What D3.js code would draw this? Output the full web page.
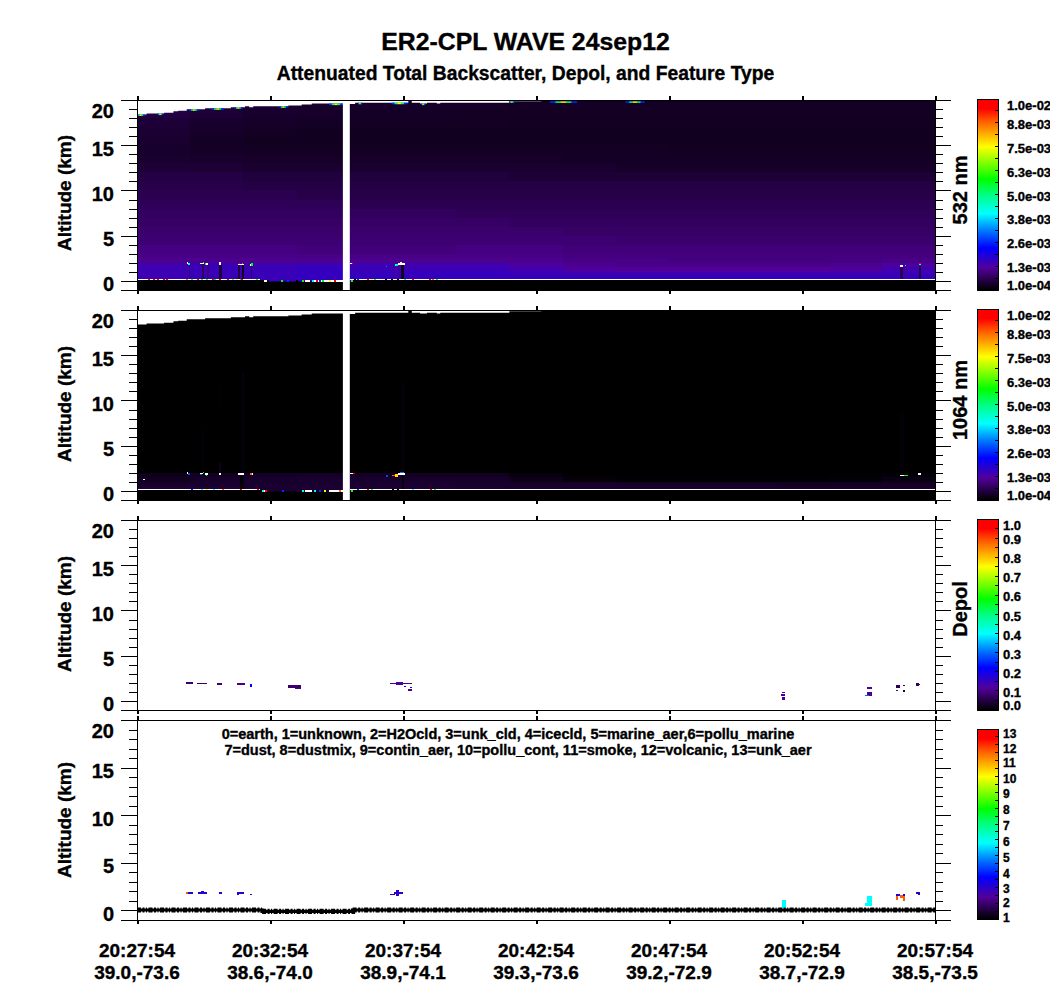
<!DOCTYPE html>
<html>
<head>
<meta charset="utf-8">
<script src="https://cdn.jsdelivr.net/npm/d3@7.9.0/dist/d3.min.js"></script>
<style>
  html, body { margin: 0; padding: 0; background: #fff; }
  text { font-family: "Liberation Sans", Arial, sans-serif; font-weight: bold; fill: #000; stroke: #000; stroke-width: 0.35px; }
</style>
</head>
<body>
<svg id="chart" width="1050" height="1000"></svg>
<script>
// x values are minutes after 20:27:54, altitudes km, backscatter in units of 1e-3
const timeTicks = [0, 5, 10, 15, 20, 25, 30];
const timeLabels = ['20:27:54', '20:32:54', '20:37:54', '20:42:54', '20:47:54', '20:52:54', '20:57:54'];
const navLabels = ['39.0,-73.6', '38.6,-74.0', '38.9,-74.1', '39.3,-73.6', '39.2,-72.9', '38.7,-72.9', '38.5,-73.5'];

const SAT = 99; // above the colour range, drawn white

const gapTimes = [7.74, 8.0];

// top of the signal (aircraft altitude)
const ceilingT = [0, 0.36, 1.02, 1.37, 1.55, 1.87, 2.56, 3.53, 4.06, 4.22, 4.37, 5.69, 6.19, 6.57, 8.0, 8.2, 10.2, 10.33, 10.64, 10.9, 11.27, 11.4, 14, 15.2, 30];
const ceilingAlt = [18.4, 18.5, 18.6, 18.75, 18.8, 18.97, 19.08, 19.2, 19.3, 19.2, 19.3, 19.4, 19.5, 19.6, 19.55, 19.7, 20.0, 19.7, 19.6, 19.7, 19.6, 19.7, 19.85, 20.5, 20.5];

// ground
const surfaceT = [0, 4.7, 8.1, 30];
const surfaceAlt = [0.1, -0.05, 0.1, 0.1];

// curtain table, columns every 2 minutes from 0, rows bottom to top
const altEdges = [-0.1, 0.5, 1, 1.5, 2, 2.5, 3, 4, 5, 6, 7, 8, 9, 10, 11, 12, 13, 14, 15, 16, 17, 18, 19, 21];
const bg532 = [
  [1.55, 1.6, 1.55, 1.6, 1.6, 1.6, 1.6, 1.6, 1.6, 1.6, 1.6, 1.6, 1.6, 1.6, 1.6],
  [1.5, 1.55, 1.55, 1.6, 1.6, 1.6, 1.6, 1.55, 1.5, 1.5, 1.5, 1.5, 1.5, 1.5, 1.55],
  [1.5, 1.55, 1.55, 1.6, 1.55, 1.55, 1.55, 1.45, 1.3, 1.25, 1.25, 1.25, 1.25, 1.3, 1.45],
  [1.45, 1.55, 1.5, 1.55, 1.5, 1.45, 1.45, 1.3, 1.15, 1.1, 1.1, 1.1, 1.1, 1.15, 1.3],
  [1.15, 1.15, 1.15, 1.15, 1.15, 1.15, 1.15, 1.15, 1.1, 1.1, 1.05, 1.05, 1.05, 1.05, 1.1],
  [1.1, 1.1, 1.1, 1.1, 1.1, 1.1, 1.1, 1.1, 1.05, 1.05, 1.05, 1.05, 1.05, 1.05, 1.05],
  [1.05, 1.05, 1.05, 1.0, 1.0, 1.0, 1.05, 1.05, 1.0, 1.0, 1.0, 1.0, 1.0, 1.0, 1.0],
  [0.95, 0.95, 0.95, 0.95, 0.95, 0.95, 0.95, 0.95, 0.95, 0.9, 0.9, 0.9, 0.9, 0.9, 0.9],
  [0.9, 0.9, 0.9, 0.9, 0.9, 0.9, 0.9, 0.9, 0.85, 0.85, 0.85, 0.85, 0.85, 0.85, 0.85],
  [0.85, 0.85, 0.85, 0.85, 0.85, 0.85, 0.85, 0.8, 0.8, 0.8, 0.8, 0.8, 0.8, 0.8, 0.8],
  [0.8, 0.8, 0.8, 0.8, 0.8, 0.8, 0.75, 0.75, 0.75, 0.75, 0.75, 0.75, 0.75, 0.75, 0.75],
  [0.75, 0.75, 0.75, 0.75, 0.7, 0.7, 0.7, 0.7, 0.7, 0.7, 0.7, 0.7, 0.7, 0.7, 0.7],
  [0.7, 0.7, 0.7, 0.65, 0.65, 0.65, 0.65, 0.65, 0.65, 0.65, 0.65, 0.65, 0.65, 0.65, 0.65],
  [0.65, 0.65, 0.6, 0.6, 0.6, 0.6, 0.6, 0.6, 0.6, 0.6, 0.6, 0.6, 0.6, 0.6, 0.6],
  [0.6, 0.6, 0.55, 0.55, 0.55, 0.55, 0.55, 0.5, 0.5, 0.5, 0.5, 0.5, 0.5, 0.5, 0.5],
  [0.5, 0.5, 0.45, 0.45, 0.45, 0.45, 0.45, 0.45, 0.45, 0.4, 0.4, 0.4, 0.4, 0.4, 0.4],
  [0.45, 0.42, 0.4, 0.4, 0.4, 0.4, 0.4, 0.4, 0.38, 0.38, 0.38, 0.38, 0.38, 0.38, 0.38],
  [0.42, 0.38, 0.36, 0.36, 0.36, 0.36, 0.36, 0.36, 0.36, 0.36, 0.34, 0.34, 0.34, 0.34, 0.34],
  [0.45, 0.38, 0.34, 0.34, 0.34, 0.34, 0.34, 0.34, 0.34, 0.34, 0.34, 0.34, 0.34, 0.34, 0.34],
  [0.48, 0.4, 0.36, 0.34, 0.34, 0.34, 0.34, 0.34, 0.34, 0.34, 0.34, 0.34, 0.34, 0.34, 0.34],
  [0.52, 0.44, 0.4, 0.38, 0.36, 0.36, 0.36, 0.34, 0.34, 0.34, 0.34, 0.34, 0.34, 0.34, 0.34],
  [0.58, 0.5, 0.44, 0.4, 0.38, 0.38, 0.36, 0.36, 0.36, 0.36, 0.36, 0.36, 0.36, 0.36, 0.36],
  [0.62, 0.55, 0.48, 0.44, 0.42, 0.4, 0.4, 0.38, 0.38, 0.38, 0.38, 0.38, 0.38, 0.38, 0.38]
];
const bg1064 = [
  [0.5, 0.5, 0.46, 0.48, 0.48, 0.48, 0.44, 0.44, 0.44, 0.44, 0.44, 0.42, 0.4, 0.4, 0.4],
  [0.4, 0.44, 0.44, 0.46, 0.46, 0.46, 0.44, 0.4, 0.4, 0.38, 0.36, 0.36, 0.34, 0.34, 0.36],
  [0.34, 0.4, 0.42, 0.44, 0.44, 0.42, 0.4, 0.28, 0.18, 0.14, 0.13, 0.14, 0.14, 0.16, 0.24],
  [0.3, 0.36, 0.38, 0.4, 0.38, 0.36, 0.34, 0.2, 0.12, 0.1, 0.1, 0.1, 0.1, 0.12, 0.16],
  [0.1, 0.1, 0.1, 0.1, 0.1, 0.1, 0.1, 0.08, 0.08, 0.08, 0.08, 0.08, 0.08, 0.08, 0.08],
  [0.08, 0.08, 0.08, 0.08, 0.08, 0.08, 0.08, 0.08, 0.08, 0.08, 0.08, 0.08, 0.08, 0.08, 0.08],
  [0.08, 0.08, 0.08, 0.08, 0.08, 0.08, 0.08, 0.08, 0.08, 0.08, 0.08, 0.08, 0.08, 0.08, 0.08]
];

// t0, t1, alt0, alt1, value
const streaks532 = [
  [1.95, 2.0, 0.1, 1.8, 0.95], [2.46, 2.52, 0.1, 1.9, 0.8], [2.65, 2.69, 0.1, 1.8, 1.0],
  [3.1, 3.18, 0.1, 1.8, 0.5], [3.81, 3.87, 0.1, 1.75, 0.55], [3.93, 4.02, 0.1, 1.75, 0.35],
  [4.29, 4.34, 0.1, 1.7, 0.8], [9.91, 10.04, 0.1, 1.77, 0.35], [9.7, 9.76, 0.1, 1.65, 1.15],
  [28.7, 28.81, 0.1, 1.6, 0.7], [28.9, 28.96, 0.1, 1.6, 1.2], [29.41, 29.47, 0.1, 1.7, 0.6]
];
const clouds532 = [
  [1.87, 1.93, 1.9, 2.1, SAT], [1.93, 2.0, 1.77, 2.0, 4.2],
  [2.37, 2.52, 1.9, 2.0, SAT], [2.47, 2.51, 2.0, 2.1, 5.8],
  [2.56, 2.6, 1.8, 2.0, 5.8], [2.6, 2.66, 1.8, 2.0, SAT],
  [3.08, 3.16, 1.75, 2.05, SAT],
  [3.81, 4.02, 1.75, 1.9, SAT], [3.84, 3.88, 1.9, 2.02, 9.8], [3.96, 4.0, 1.9, 2.02, 8.8],
  [4.25, 4.29, 1.7, 1.85, SAT], [4.29, 4.37, 1.7, 1.95, 5.8],
  [8.01, 8.07, 1.9, 2.0, SAT], [8.07, 8.13, 1.9, 2.0, 9.8],
  [9.36, 9.41, 1.55, 1.7, 3.2], [9.7, 9.76, 1.65, 1.85, 4.2], [9.76, 9.82, 1.65, 1.85, 5.6],
  [9.82, 10.07, 1.77, 1.95, SAT], [9.88, 9.98, 1.95, 2.1, SAT],
  [28.7, 28.81, 1.58, 1.73, SAT], [28.86, 28.9, 1.6, 1.75, 4.2],
  [29.41, 29.47, 1.9, 2.0, 9.8], [29.41, 29.47, 1.75, 1.9, 4.2]
];
const streaks1064 = [
  [3.1, 3.16, 2, 3.2, 0.3], [3.1, 3.16, 8.5, 12.5, 0.14], [3.93, 4.02, 2, 13, 0.2], [3.87, 3.93, 0.1, 1.7, 0.12],
  [3.93, 4.02, 0.1, 1.7, 0.2], [2.46, 2.5, 2, 7, 0.16], [1.95, 2, 2, 5, 0.14],
  [9.95, 10.04, 2, 12, 0.2], [9.95, 10.04, 0.1, 1.7, 0.16], [28.7, 28.85, 2, 9, 0.16]
];
const clouds1064 = [
  [0.24, 0.3, 1.2, 1.3, SAT],
  [1.87, 1.93, 1.9, 2.1, SAT], [1.93, 2.0, 1.75, 2.0, 2.8],
  [2.37, 2.49, 1.85, 1.95, SAT], [2.37, 2.45, 1.75, 1.85, 3.0], [2.47, 2.51, 1.95, 2.08, 5.8],
  [2.56, 2.68, 1.75, 1.95, SAT], [2.6, 2.64, 1.72, 1.78, 5.8],
  [3.08, 3.16, 1.75, 2.0, SAT], [3.81, 4.02, 1.75, 1.95, SAT],
  [4.25, 4.31, 1.75, 1.95, 8.8], [4.31, 4.37, 1.75, 1.95, SAT],
  [8.01, 8.13, 1.9, 2.0, SAT], [8.13, 8.18, 1.9, 2.0, 9.8],
  [9.36, 9.42, 1.55, 1.8, 2.8], [9.57, 9.7, 1.75, 1.8, 8.8], [9.7, 9.82, 1.55, 1.9, 7.8],
  [9.82, 10.07, 1.75, 2.0, SAT], [9.88, 10.02, 2.0, 2.1, 3.2],
  [28.7, 28.85, 1.65, 1.8, SAT], [28.85, 29.0, 1.65, 1.8, 5.8],
  [29.36, 29.47, 1.8, 1.95, SAT]
];

// white ground return, t0, t1, alt
const groundLine532 = [[0, 4.62, 0.1], [4.75, 4.94, -0.05], [6.3, 6.5, -0.05], [6.63, 7.74, -0.05], [8.0, 30, 0.1]];
const groundLine1064 = [[0, 4.62, 0.1], [4.75, 4.85, -0.05], [6.32, 6.57, -0.05], [7.2, 7.74, -0.05], [8.0, 30, 0.1]];

// coloured specks on the ground line, t and value
const specksT532 = [0.46, 0.65, 0.8, 1.03, 1.14, 1.87, 2.05, 2.28, 2.43, 2.64, 2.87, 2.93, 3.12, 3.43, 3.62, 3.75, 3.9, 3.96, 4.52, 4.75, 4.94, 5.44, 5.69, 6.0, 6.25, 6.63, 6.75, 6.88, 7.0, 7.26, 7.44, 8.07, 8.2, 8.32, 8.7, 8.82, 8.95, 9.36, 9.57, 9.82, 10.07, 10.39, 11.0, 11.14, 11.27];
const specksV532 = [9.9, 9.9, 9.9, 9.9, 9.9, 8.8, 5.8, 9.9, 5.8, 5.8, 9.9, 5.8, 9.9, 9.9, 6.3, 7.5, 5.8, 9.9, 5.8, 0.1, 0.1, 5.8, 2.6, 0.1, 5.8, 4.2, 9.9, 2.6, 5.8, 7.5, 9.9, 5.8, 0.1, 2.6, 9.9, 7.5, 5.8, 0.1, 0.1, 0.1, 5.8, 9.9, 9.9, 8.8, 5.8];
const specksT1064 = [2.08, 2.46, 2.65, 2.9, 3.22, 3.9, 4.56, 4.75, 4.84, 5.5, 6.23, 6.69, 6.88, 7.07, 7.63, 8.07, 8.32, 8.7, 8.82, 9.63, 9.82, 10.39, 11.07, 11.2];
const specksV1064 = [2.6, 4.2, 7.5, 4.2, 8.8, 9.9, 9.9, 4.2, 9.9, 2.6, 4.2, 4.2, 2.6, 7.5, 8.8, 5.8, 2.6, 9.9, 5.8, 0.1, 0.1, 4.2, 9.9, 5.8];

// bright bits along the top of the 532 curtain: centre t, width
const glintT = [0.14, 0.87, 2.14, 3.03, 3.81, 5.5, 7.48, 8.38, 9.86, 10.76, 14.09, 16.03, 18.72];
const glintW = [0.3, 0.2, 0.35, 0.45, 0.3, 0.3, 0.52, 0.15, 0.6, 0.15, 0.2, 1.0, 0.7];
const glintRamp = [2.6, 5.2, 7.6, 5.2, 2.6];

const depolCells = [
  [1.84, 2.12, 1.82, 2.04, 0.08], [2.24, 2.64, 1.82, 1.98, 0.08], [3.02, 3.18, 1.72, 1.93, 0.09],
  [3.77, 4.06, 1.77, 1.93, 0.1], [4.25, 4.31, 1.58, 1.85, 0.22],
  [5.69, 6.15, 1.47, 1.72, 0.08], [5.95, 6.15, 1.32, 1.42, 0.1],
  [9.51, 10.33, 1.82, 1.96, 0.1], [9.75, 10.0, 1.72, 2.04, 0.12], [10.05, 10.12, 1.5, 1.68, 0.22],
  [10.2, 10.33, 1.14, 1.3, 0.1], [10.27, 10.33, 1.4, 1.55, 0.22],
  [24.21, 24.36, 0.6, 0.72, 0.1], [24.26, 24.36, 0.85, 1.0, 0.14], [24.26, 24.36, 0.11, 0.4, 0.14],
  [27.43, 27.63, 0.55, 1.0, 0.1], [27.43, 27.63, 1.3, 1.5, 0.12], [27.36, 27.5, 0.55, 0.7, 0.3],
  [28.52, 28.69, 1.45, 1.77, 0.06], [28.52, 28.6, 1.14, 1.22, 0.1], [28.78, 28.87, 1.62, 1.77, 0.06], [28.78, 28.87, 1.03, 1.25, 0.04],
  [29.29, 29.38, 1.7, 2.0, 0.07], [29.38, 29.44, 1.78, 1.9, 0.08]
];
const featureCells = [
  [1.84, 1.9, 1.68, 1.92, 11.6], [1.9, 2.12, 1.68, 1.89, 3],
  [2.28, 2.64, 1.68, 1.89, 3], [2.42, 2.5, 1.89, 2.0, 3],
  [3.08, 3.2, 1.68, 1.89, 3], [3.77, 4.02, 1.68, 1.89, 3], [3.77, 3.85, 1.58, 1.68, 3], [4.25, 4.31, 1.58, 1.78, 3],
  [9.51, 9.7, 1.6, 1.78, 3], [9.65, 10.0, 1.68, 1.89, 3], [9.75, 9.85, 1.5, 2.1, 3],
  [24.26, 24.38, 0.28, 1.05, 5.8], [27.43, 27.63, 0.42, 1.47, 5.8], [27.36, 27.43, 0.42, 0.75, 5.8],
  [28.52, 28.69, 1.47, 1.68, 3], [28.52, 28.6, 1.05, 1.47, 11.6], [28.69, 28.87, 1.3, 1.58, 11.6],
  [28.78, 28.87, 1.47, 1.68, 3], [28.78, 28.87, 0.95, 1.3, 11.6], [29.29, 29.44, 1.68, 1.89, 3], [29.36, 29.44, 1.58, 1.68, 3]
];

// colour bars
const rainbowStops = [0, 0.115, 0.22, 0.31, 0.40, 0.50, 0.58, 0.75, 0.88, 0.95, 1];
const rainbowColors = ['#000000', '#52009a', '#0000ff', '#0078ff', '#00ffff', '#00ff80', '#00ff00', '#ffff00', '#ff6000', '#ff0000', '#ff0000'];
const backscatterTicks = [0.1, 1.34, 2.58, 3.81, 5.05, 6.29, 7.53, 8.76, 10];
const backscatterLabels = ['1.0e-04', '1.3e-03', '2.6e-03', '3.8e-03', '5.0e-03', '6.3e-03', '7.5e-03', '8.8e-03', '1.0e-02'];
const depolTicks = [0, 0.1, 0.2, 0.3, 0.4, 0.5, 0.6, 0.7, 0.8, 0.9, 1];
const depolLabels = ['0.0', '0.1', '0.2', '0.3', '0.4', '0.5', '0.6', '0.7', '0.8', '0.9', '1.0'];
const featureTicks = [1, 2, 3, 4, 5, 6, 7, 8, 9, 10, 11, 12, 13];
const featureLabels = featureTicks.map(String);

const legendLines = [
  '0=earth, 1=unknown, 2=H2Ocld, 3=unk_cld, 4=icecld, 5=marine_aer,6=pollu_marine',
  '7=dust, 8=dustmix, 9=contin_aer, 10=pollu_cont, 11=smoke, 12=volcanic, 13=unk_aer'
];

const plotLeft = 137, plotRight = 935;
const svg = d3.select('#chart');
const xScale = d3.scaleLinear().domain([0, 30]).range([plotLeft, plotRight]);
const rainbow = d3.scaleLinear().domain(rainbowStops).range(rainbowColors).interpolate(d3.interpolateRgb);

function fillOf(domain) {
  const frac = d3.scaleLinear().domain(domain).range([0, 1]).clamp(true);
  return (v) => (v > domain[1] ? '#ffffff' : rainbow(frac(v)));
}

let clipCount = 0;

function drawCells(g, y, cells, fill) {
  g.selectAll(null)
    .data(cells)
    .join('rect')
    .attr('x', (d) => xScale(d[0]))
    .attr('width', (d) => Math.max(1, xScale(d[1]) - xScale(d[0])))
    .attr('y', (d) => y(d[3]))
    .attr('height', (d) => Math.max(1, y(d[2]) - y(d[3])))
    .attr('fill', (d) => fill(d[4]))
    .attr('shape-rendering', 'crispEdges');
}

function drawAxes(g, y, top, bottom) {
  const majors = [0, 5, 10, 15, 20];
  const minors = d3.range(-1, 20).filter((d) => !majors.includes(d));

  const left = g.append('g').attr('transform', `translate(${plotLeft},0)`)
    .call(d3.axisLeft(y).tickValues(majors).tickSize(16).tickPadding(7).tickFormat(d3.format('d')));
  left.selectAll('text')
    .style('font-size', '20px')
    .attr('dy', (d) => (d === 20 ? '0.85em' : '0.5em'));
  g.append('g').attr('transform', `translate(${plotLeft},0)`)
    .call(d3.axisLeft(y).tickValues(minors).tickSize(8).tickFormat(''));

  g.append('g').attr('transform', `translate(${plotRight},0)`)
    .call(d3.axisRight(y).tickValues(majors).tickSize(16).tickFormat(''));
  g.append('g').attr('transform', `translate(${plotRight},0)`)
    .call(d3.axisRight(y).tickValues(minors).tickSize(8).tickFormat(''));

  const topAxis = g.append('g').attr('transform', `translate(0,${top})`)
    .call(d3.axisTop(xScale).tickValues(timeTicks).tickSize(4).tickSizeOuter(0).tickFormat(''));
  const bottomAxis = g.append('g').attr('transform', `translate(0,${bottom})`)
    .call(d3.axisBottom(xScale).tickValues(timeTicks).tickSize(4).tickSizeOuter(0).tickFormat(''));
  topAxis.selectAll('line').attr('stroke-width', 2);
  bottomAxis.selectAll('line').attr('stroke-width', 2);

  g.selectAll('.domain').attr('stroke-width', 1.2);
  g.selectAll('.tick line').attr('shape-rendering', 'crispEdges');
  g.selectAll('.domain').attr('shape-rendering', 'crispEdges');
  g.selectAll('.domain').attr('stroke', '#000');
}

// labels sit about 1.5px under their tick, the end ones pushed inside the bar
function drawColorbar(top, bottom, domain, ticks, labels, fill, opts) {
  const { size = 13, topInset = 6.3, bottomInset = 4.3, crowd = 0 } = opts || {};
  const g = svg.append('g');
  const x0 = 977, x1 = 998;
  const c = d3.scaleLinear().domain(domain).range([bottom, top]);
  g.selectAll('rect')
    .data(d3.range(bottom, top, -1))
    .join('rect')
    .attr('x', x0).attr('width', x1 - x0)
    .attr('y', (d) => d - 1).attr('height', 1)
    .attr('fill', (d) => fill(c.invert(d - 0.5)))
    .attr('shape-rendering', 'crispEdges');
  g.append('rect')
    .attr('x', x0).attr('y', top).attr('width', x1 - x0).attr('height', bottom - top)
    .attr('fill', 'none').attr('stroke', '#000')
    .attr('shape-rendering', 'crispEdges');
  const between = d3.pairs(ticks).map(([a, b]) => (a + b) / 2);
  g.selectAll('line')
    .data(ticks.concat(between))
    .join('line')
    .attr('x1', x1 - 3).attr('x2', x1)
    .attr('y1', (d) => c(d)).attr('y2', (d) => c(d))
    .attr('stroke', '#000')
    .attr('shape-rendering', 'crispEdges');
  g.selectAll('text')
    .data(ticks)
    .join('text')
    .attr('x', labels[0].length > 3 ? 1007 : 1003)
    .attr('y', (d, i) => {
      if (i === 0) return bottom - bottomInset + 4.5;
      if (i === ticks.length - 1) return top + topInset + 4.5;
      if (i === 1) return c(d) + 1.5 - crowd + 4.5;
      if (i === ticks.length - 2) return c(d) + 1.5 + crowd + 4.5;
      return c(d) + 1.5 + 4.5;
    })
    .style('font-size', size + 'px')
    .text((d, i) => labels[i]);
}

function sideLabel(text, x, y, size) {
  svg.append('text')
    .attr('transform', `translate(${x},${y}) rotate(-90)`)
    .attr('text-anchor', 'middle')
    .style('font-size', size + 'px')
    .text(text);
}

function drawCurtainPanel(top, bottom, table, streaks, clouds, groundLine, specksT, specksV, withGlints) {
  const y = d3.scaleLinear().domain([-1, 20]).range([bottom, top]);
  const fill = fillOf([0.1, 10]);
  const g = svg.append('g');
  const clipId = 'clip' + clipCount++;
  g.append('clipPath').attr('id', clipId).append('rect')
    .attr('x', plotLeft).attr('y', top)
    .attr('width', plotRight - plotLeft).attr('height', bottom - top);
  const plot = g.append('g').attr('clip-path', `url(#${clipId})`);

  // black base, the table only covers its lowest rows for 1064
  plot.append('rect').attr('x', plotLeft).attr('y', top)
    .attr('width', plotRight - plotLeft).attr('height', bottom - top).attr('fill', '#000');

  const bands = d3.pairs(altEdges);
  const cells = [];
  table.forEach((row, r) => {
    row.forEach((v, c) => {
      cells.push([c * 2, c * 2 + 2, bands[r][0], bands[r][1], v]);
    });
  });
  drawCells(plot, y, cells, fill);
  drawCells(plot, y, streaks, fill);

  // sky above the aircraft
  const sky = d3.area().curve(d3.curveStepAfter)
    .x((d) => xScale(d)).y0(top)
    .y1((d, i) => y(ceilingAlt[i]));
  plot.append('path').datum(ceilingT).attr('d', sky).attr('fill', '#fff');

  // earth
  const earth = d3.area().curve(d3.curveStepAfter)
    .x((d) => xScale(d)).y0(bottom)
    .y1((d, i) => y(surfaceAlt[i]));
  plot.append('path').datum(surfaceT).attr('d', earth).attr('fill', '#000');

  drawCells(plot, y, clouds, fill);

  plot.selectAll(null).data(groundLine).join('rect')
    .attr('x', (d) => xScale(d[0]))
    .attr('width', (d) => xScale(d[1]) - xScale(d[0]))
    .attr('y', (d) => y(d[2]) - 1).attr('height', 1.4)
    .attr('fill', '#fff').attr('shape-rendering', 'crispEdges');

  const surfaceAt = (t) => surfaceAlt[d3.bisectRight(surfaceT, t) - 1];
  plot.selectAll(null).data(specksT).join('rect')
    .attr('x', (d) => xScale(d) - 1)
    .attr('width', 2)
    .attr('y', (d) => y(surfaceAt(d)) - 1).attr('height', 1.4)
    .attr('fill', (d, i) => fill(specksV[i])).attr('shape-rendering', 'crispEdges');

  if (withGlints) {
    const ceilAt = (t) => Math.min(ceilingAlt[d3.bisectRight(ceilingT, t) - 1], 19.85);
    glintT.forEach((t, i) => {
      const w = glintW[i] / glintRamp.length;
      plot.selectAll(null).data(glintRamp).join('rect')
        .attr('x', (d, k) => xScale(t - glintW[i] / 2 + k * w))
        .attr('width', xScale(w) - xScale(0) + 0.3)
        .attr('y', y(ceilAt(t)))
        .attr('height', 1.5)
        .attr('fill', (d) => fill(d));
    });
  }

  // data gap
  plot.append('rect')
    .attr('x', xScale(gapTimes[0])).attr('width', xScale(gapTimes[1]) - xScale(gapTimes[0]))
    .attr('y', top).attr('height', bottom - top).attr('fill', '#fff');

  drawAxes(g, y, top, bottom);
}

function drawCellPanel(top, bottom, cells, fill) {
  const y = d3.scaleLinear().domain([-1, 20]).range([bottom, top]);
  const g = svg.append('g');
  drawCells(g, y, cells, fill);
  return { g, y };
}

// titles
svg.append('text').attr('x', 525.5).attr('y', 50).attr('text-anchor', 'middle')
  .style('font-size', '24.8px').text('ER2-CPL WAVE 24sep12');
svg.append('text').attr('x', 525.5).attr('y', 80).attr('text-anchor', 'middle')
  .style('font-size', '19.3px').text('Attenuated Total Backscatter, Depol, and Feature Type');

// panels
drawCurtainPanel(100, 290, bg532, streaks532, clouds532, groundLine532, specksT532, specksV532, true);
drawCurtainPanel(310, 500, bg1064, streaks1064, clouds1064, groundLine1064, specksT1064, specksV1064, false);

const depolFill = fillOf([0, 1]);
const p3 = drawCellPanel(520, 710, depolCells, depolFill);
drawAxes(p3.g, p3.y, 520, 710);

const featureFill = fillOf([1, 13]);
const p4 = drawCellPanel(720, 920, featureCells, featureFill);
// earth return in the feature mask: solid core with a broken edge either side
const earthLine = d3.line().curve(d3.curveStepAfter)
  .x((d) => xScale(d)).y((d, i) => p4.y(surfaceAlt[i] - 0.05));
p4.g.append('path').datum(surfaceT).attr('d', earthLine)
  .attr('fill', 'none').attr('stroke', '#000').attr('stroke-width', 3.2);
p4.g.append('path').datum(surfaceT).attr('d', earthLine)
  .attr('fill', 'none').attr('stroke', '#000').attr('stroke-width', 5.2)
  .attr('stroke-dasharray', '4 1.5 2 1.5 1 1.5');
drawAxes(p4.g, p4.y, 720, 920);

// legend
svg.append('text').attr('x', 508).attr('y', 739).attr('text-anchor', 'middle')
  .style('font-size', '14.5px').text(legendLines[0]);
svg.append('text').attr('x', 518).attr('y', 755).attr('text-anchor', 'middle')
  .style('font-size', '14.5px').text(legendLines[1]);

// y titles
sideLabel('Altitude (km)', 71, 193, 19);
sideLabel('Altitude (km)', 71, 404, 19);
sideLabel('Altitude (km)', 71, 614, 19);
sideLabel('Altitude (km)', 71, 820, 19);

// right titles
sideLabel('532 nm', 967, 190, 20);
sideLabel('1064 nm', 967, 400, 20);
sideLabel('Depol', 967, 609, 20);

// colour bars
drawColorbar(99, 290, [0.1, 10], backscatterTicks, backscatterLabels, fillOf([0.1, 10]));
drawColorbar(309, 500, [0.1, 10], backscatterTicks, backscatterLabels, fillOf([0.1, 10]));
drawColorbar(519, 710, [0, 1], depolTicks, depolLabels, depolFill);
drawColorbar(729, 919, [1, 13], featureTicks, featureLabels, featureFill, { size: 12, topInset: 4.5, bottomInset: 1.5, crowd: 1.7 });

// time labels
svg.selectAll('.time-label').data(timeTicks).join('text')
  .attr('class', 'time-label')
  .attr('x', (d) => xScale(d)).attr('y', 957).attr('text-anchor', 'middle')
  .style('font-size', '19px')
  .text((d, i) => timeLabels[i]);
svg.selectAll('.nav-label').data(timeTicks).join('text')
  .attr('class', 'nav-label')
  .attr('x', (d) => xScale(d)).attr('y', 979).attr('text-anchor', 'middle')
  .style('font-size', '19px')
  .text((d, i) => navLabels[i]);
</script>
</body>
</html>
